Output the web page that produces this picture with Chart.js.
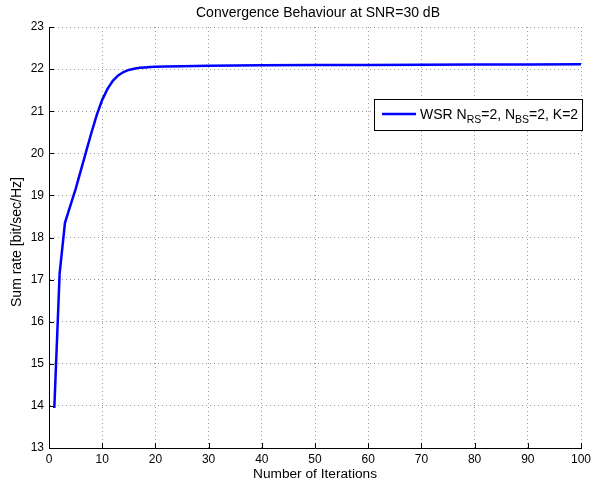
<!DOCTYPE html>
<html lang="en">
<head>
  <meta charset="UTF-8">
  <title>Convergence Behaviour</title>
  <script src="https://cdn.jsdelivr.net/npm/chart.js@4.4.0/dist/chart.umd.min.js"></script>
  <style>
    html, body { margin: 0; padding: 0; background: #fff; }
    #wrap { width: 600px; height: 481px; }
  </style>
</head>
<body>
  <div id="wrap"><canvas id="chart" width="600" height="481"></canvas></div>

  <script>
    // iteration number and sum rate
    const iterations = [1, 2, 3, 4, 5, 6, 7, 8, 9, 10, 11, 12, 13, 14, 15, 16, 17, 18, 19, 20, 22, 25, 30, 40, 50, 60, 70, 80, 90, 100];
    const sumRate = [13.95, 17.15, 18.35, 18.75, 19.15, 19.6, 20.05, 20.5, 20.92, 21.27, 21.53, 21.72, 21.85, 21.93, 21.98, 22.01, 22.03, 22.04, 22.05, 22.055, 22.06, 22.07, 22.08, 22.09, 22.095, 22.1, 22.105, 22.11, 22.11, 22.115];
    const xTicks = [0, 10, 20, 30, 40, 50, 60, 70, 80, 90, 100];
    const yTicks = [13, 14, 15, 16, 17, 18, 19, 20, 21, 22, 23];

    const FONT = '"Liberation Sans", Arial, Helvetica, sans-serif';

    // title, axis labels, legend (with subscripts) and inward tick marks
    const decor = {
      id: 'decor',
      afterDraw(chart) {
        const ctx = chart.ctx;
        const area = chart.chartArea;
        const xs = chart.scales.x, ys = chart.scales.y;
        ctx.save();

        // inward ticks
        ctx.strokeStyle = '#000';
        ctx.lineWidth = 1;
        ctx.beginPath();
        xTicks.forEach(v => {
          const px = Math.round(xs.getPixelForValue(v)) + 0.5;
          ctx.moveTo(px, area.bottom);
          ctx.lineTo(px, area.bottom - 5);
        });
        yTicks.forEach(v => {
          const py = Math.round(ys.getPixelForValue(v)) + 0.5;
          ctx.moveTo(area.left, py);
          ctx.lineTo(area.left + 5, py);
        });
        ctx.stroke();

        ctx.fillStyle = '#000';
        ctx.textAlign = 'center';
        ctx.textBaseline = 'middle';
        ctx.font = '14px ' + FONT;
        ctx.fillText('Convergence Behaviour at SNR=30 dB', 318, 13);
        ctx.font = '13.7px ' + FONT;
        ctx.fillText('Number of Iterations', 315, 474);
        ctx.save();
        ctx.translate(17, 242);
        ctx.rotate(-Math.PI / 2);
        ctx.font = '14px ' + FONT;
        ctx.fillText('Sum rate [bit/sec/Hz]', 0, 0);
        ctx.restore();

        // legend
        const lx = 374, ly = 99, lw = 208, lh = 31;
        ctx.fillStyle = '#fff';
        ctx.fillRect(lx, ly, lw, lh);
        ctx.strokeStyle = '#000';
        ctx.lineWidth = 1;
        ctx.strokeRect(lx + 0.5, ly + 0.5, lw, lh);
        ctx.strokeStyle = '#0000ff';
        ctx.lineWidth = 2.5;
        ctx.beginPath();
        ctx.moveTo(382, 114);
        ctx.lineTo(416, 114);
        ctx.stroke();

        const parts = [
          ['WSR N', 0], ['RS', 1], ['=2, N', 0], ['BS', 1], ['=2, K=2', 0]
        ];
        ctx.fillStyle = '#000';
        ctx.textAlign = 'left';
        ctx.textBaseline = 'alphabetic';
        let tx = 420;
        parts.forEach(([s, sub]) => {
          ctx.font = (sub ? '10.5px ' : '14px ') + FONT;
          ctx.fillText(s, tx, sub ? 123 : 119);
          tx += ctx.measureText(s).width;
        });
        ctx.restore();
      }
    };

    const gridStyle = {
      color: '#9a9a9a',
      lineWidth: 1,
      drawTicks: false
    };
    const borderStyle = { display: true, color: '#000', width: 1, dash: [1, 3] };

    new Chart(document.getElementById('chart'), {
      type: 'line',
      data: {
        datasets: [{
          label: 'WSR',
          data: iterations.map((x, i) => ({ x: x, y: sumRate[i] })),
          borderColor: '#0000ff',
          borderWidth: 2.5,
          pointRadius: 0,
          tension: 0,
          fill: false
        }]
      },
      options: {
        responsive: false,
        animation: false,
        layout: { padding: { top: 27, right: 19, left: 0, bottom: 0 } },
        plugins: {
          legend: { display: false },
          title: { display: false },
          tooltip: { enabled: false }
        },
        scales: {
          x: {
            type: 'linear',
            min: 0,
            max: 100,
            afterFit: s => { s.height = 33; },
            afterBuildTicks: s => { s.ticks = xTicks.map(v => ({ value: v })); },
            grid: gridStyle,
            border: borderStyle,
            ticks: { color: '#000', font: { family: FONT, size: 12 }, padding: 4, maxRotation: 0 }
          },
          y: {
            type: 'linear',
            min: 13,
            max: 23,
            afterFit: s => { s.width = 49; },
            afterBuildTicks: s => { s.ticks = yTicks.map(v => ({ value: v })); },
            grid: gridStyle,
            border: borderStyle,
            ticks: { color: '#000', font: { family: FONT, size: 12 }, padding: 5 }
          }
        }
      },
      plugins: [decor]
    });
  </script>
</body>
</html>
